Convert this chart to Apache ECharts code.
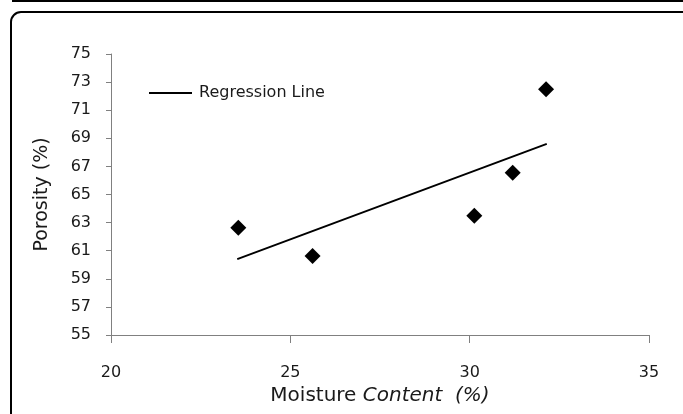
<!DOCTYPE html>
<html>
<head>
<meta charset="utf-8">
<script src="https://cdn.jsdelivr.net/npm/echarts@6/dist/echarts.min.js"></script>
<style>html,body{margin:0;padding:0;background:#fff;}#c{width:683px;height:414px;}</style>
</head>
<body>
<div id="c"></div>
<script>
// Data
const moisture = [23.55, 25.62, 30.13, 31.2, 32.13];
const porosity = [62.64, 60.62, 63.49, 66.55, 72.49];
const regressionX = [23.52, 32.15];
const regressionY = [60.40, 68.60];
const yTicks = [55, 57, 59, 61, 63, 65, 67, 69, 71, 73, 75];

const FONT = 'DejaVu Sans';
const TXT = '#1a1a1a';
const chart = echarts.init(document.getElementById('c'));
chart.setOption({
  animation: false,
  backgroundColor: '#fff',
  textStyle: { fontFamily: FONT },
  grid: { left: 111, right: 34, top: 54, bottom: 79, containLabel: false },
  legend: {
    data: [{ name: 'Regression Line', icon: 'rect' }],
    left: 149, top: 85, padding: 0,
    itemWidth: 43, itemHeight: 2,
    textStyle: { fontFamily: FONT, fontSize: 16, color: TXT, padding: [0, 0, 0, 2] }
  },
  xAxis: {
    type: 'value', min: 20, max: 35, interval: 5,
    axisLine: { show: true, lineStyle: { color: '#808080', width: 1 } },
    axisTick: { show: true, length: 8, lineStyle: { color: '#808080' } },
    axisLabel: { margin: 30, fontSize: 16, color: TXT, fontFamily: FONT },
    splitLine: { show: false },
    name: '{a|Moisture }{b|Content  (%)}',
    nameLocation: 'middle', nameGap: 46,
    nameTextStyle: {
      rich: {
        a: { fontSize: 20, fontFamily: FONT, color: TXT },
        b: { fontSize: 20, fontFamily: FONT, fontStyle: 'italic', color: TXT }
      }
    }
  },
  yAxis: {
    type: 'value', min: 55, max: 75, interval: 1,
    axisLine: { show: true, lineStyle: { color: '#808080', width: 1 } },
    axisTick: { show: true, length: 5, lineStyle: { color: '#808080' }, customValues: yTicks },
    axisLabel: { margin: 20, fontSize: 16, color: TXT, fontFamily: FONT, customValues: yTicks },
    splitLine: { show: false },
    name: 'Porosity (%)', nameLocation: 'middle', nameGap: 59,
    nameTextStyle: { fontSize: 19, fontFamily: FONT, color: TXT }
  },
  series: [
    {
      name: 'Regression Line', type: 'line',
      data: regressionX.map((x, i) => [x, regressionY[i]]),
      symbol: 'none', lineStyle: { color: '#000', width: 2 },
      itemStyle: { color: '#000' }
    },
    {
      name: 'Data', type: 'scatter',
      data: moisture.map((x, i) => [x, porosity[i]]),
      symbol: 'diamond', symbolSize: 16,
      itemStyle: { color: '#000', opacity: 1 }
    }
  ],
  graphic: [
    { type: 'rect', shape: { x: 12, y: 0, width: 671, height: 2 }, style: { fill: '#000' } },
    { type: 'line', shape: { x1: 11, y1: 22, x2: 11, y2: 414 }, style: { stroke: '#000', lineWidth: 2 } },
    { type: 'line', shape: { x1: 21, y1: 12, x2: 683, y2: 12 }, style: { stroke: '#000', lineWidth: 2 } },
    { type: 'arc', shape: { cx: 21, cy: 22, r: 10, startAngle: Math.PI, endAngle: Math.PI * 1.5 }, style: { stroke: '#000', lineWidth: 2, fill: null } }
  ]
});
</script>
</body>
</html>
